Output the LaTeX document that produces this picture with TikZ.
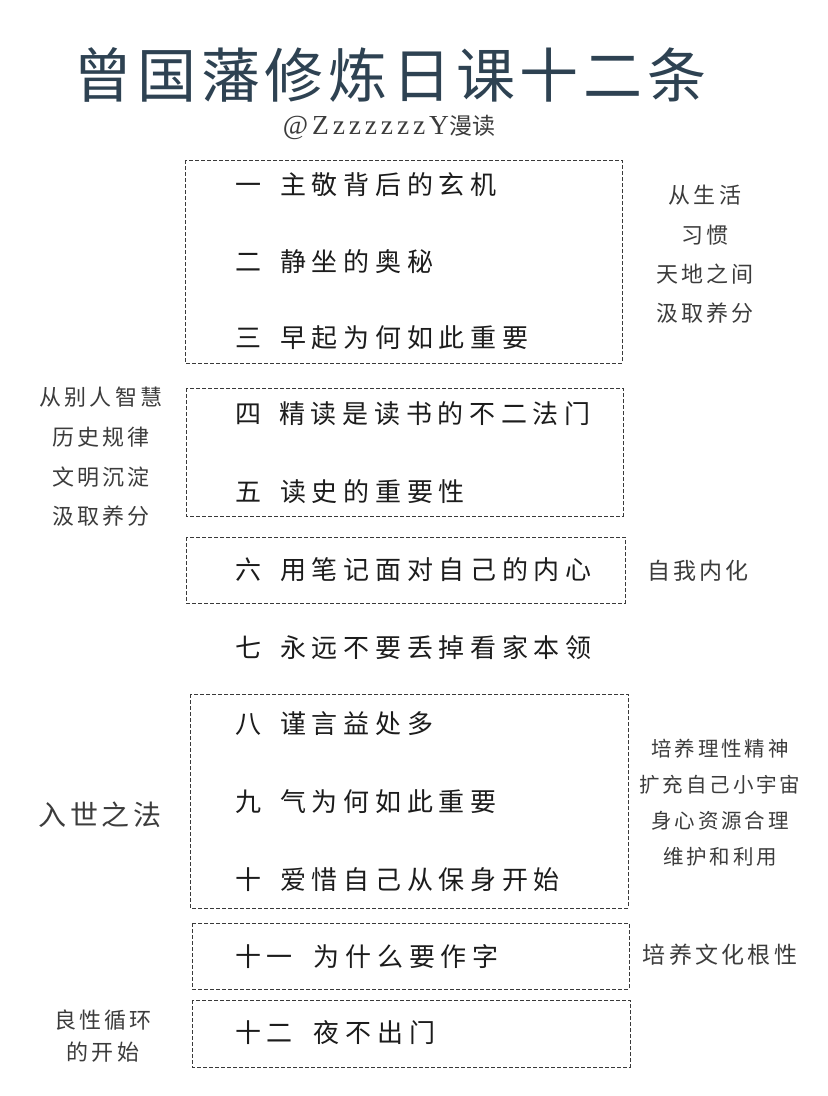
\documentclass[tikz,border=0pt]{standalone}
\usepackage{fontspec}
\newfontfamily\cjk{Noto Sans CJK SC}
\newfontfamily\cjkitem[LetterSpace=22]{Noto Sans CJK SC}
\newfontfamily\cjktitle[LetterSpace=8]{Noto Sans CJK SC}
\newfontfamily\cjkside[LetterSpace=14]{Noto Sans CJK SC}
\newfontfamily\latinserif[LetterSpace=14]{Liberation Serif}
\definecolor{titleblue}{HTML}{2E4252}
\definecolor{itemink}{HTML}{1C1C1C}
\definecolor{sideink}{HTML}{3C3C3C}
\definecolor{boxink}{HTML}{3A3A3A}
\tikzset{
  dashbox/.style={draw=boxink, line width=1pt, dash pattern=on 4pt off 2pt},
  item/.style={anchor=west, inner sep=0pt, text=itemink, font=\cjkitem\fontsize{26}{30}\selectfont},
  side/.style={inner sep=0pt, text=sideink, font=\cjkside\fontsize{22}{26}\selectfont},
  sidesmall/.style={side, font=\cjkside\fontsize{20.5}{24}\selectfont},
}
\begin{document}
\begin{tikzpicture}[x=1pt, y=-1pt]
	\useasboundingbox[fill=white] (0,0) rectangle (828,1096);

	\node[inner sep=0pt, text=titleblue, font=\cjktitle\fontsize{59}{62}\selectfont] (title) at (390,75) {曾国藩修炼日课十二条};
	\node[inner sep=0pt, text=sideink] (author) at (389,127) {{\latinserif\fontsize{27.5}{29}\selectfont @ZzzzzzzY}{\cjk\fontsize{23}{26}\selectfont 漫读}};

	% boxes
	\draw[dashbox] (185,160) rectangle (622,363);
	\draw[dashbox] (186,388) rectangle (623,516);
	\draw[dashbox] (186,537) rectangle (625,603);
	\draw[dashbox] (190,694) rectangle (628,908);
	\draw[dashbox] (192,923) rectangle (629,989);
	\draw[dashbox] (192,1000) rectangle (630,1067);

	% items
	\node[item] (i1) at (235,185) {一\hspace{19pt}主敬背后的玄机};
	\node[item] (i2) at (235,262) {二\hspace{19pt}静坐的奥秘};
	\node[item] (i3) at (235,338) {三\hspace{19pt}早起为何如此重要};
	\node[item] (i4) at (235,414) {四\hspace{18pt}精读是读书的不二法门};
	\node[item] (i5) at (235,492) {五\hspace{19pt}读史的重要性};
	\node[item] (i6) at (235,570) {六\hspace{19pt}用笔记面对自己的内心};
	\node[item] (i7) at (235,648) {七\hspace{19pt}永远不要丢掉看家本领};
	\node[item] (i8) at (235,724) {八\hspace{19pt}谨言益处多};
	\node[item] (i9) at (235,802) {九\hspace{19pt}气为何如此重要};
	\node[item] (i10) at (235,880) {十\hspace{19pt}爱惜自己从保身开始};
	\node[item] (i11) at (235,957) {十一\hspace{21pt}为什么要作字};
	\node[item] (i12) at (235,1033) {十二\hspace{21pt}夜不出门};

	% side notes
	\node[side] (s1a) at (705,195) {从生活};
	\node[side] (s1b) at (705,235) {习惯};
	\node[side] (s1c) at (705,274) {天地之间};
	\node[side] (s1d) at (705,313) {汲取养分};

	\node[side] (s2a) at (101,397) {从别人智慧};
	\node[side] (s2b) at (101,437) {历史规律};
	\node[side] (s2c) at (101,477) {文明沉淀};
	\node[side] (s2d) at (101,516) {汲取养分};

	\node[side, font=\cjkside\fontsize{23}{26}\selectfont] (s3) at (698,571) {自我内化};

	\node[side, font=\cjkside\fontsize{28}{31}\selectfont] (s4) at (100,815) {入世之法};
	\node[sidesmall] (s5a) at (720,749) {培养理性精神};
	\node[sidesmall] (s5b) at (720,785) {扩充自己小宇宙};
	\node[sidesmall] (s5c) at (720,821) {身心资源合理};
	\node[sidesmall] (s5d) at (720,857) {维护和利用};

	\node[side, font=\cjkside\fontsize{23}{26}\selectfont] (s6) at (720,955) {培养文化根性};

	\node[side] (s7a) at (103,1020) {良性循环};
	\node[side] (s7b) at (103,1052) {的开始};
\end{tikzpicture}
\end{document}
